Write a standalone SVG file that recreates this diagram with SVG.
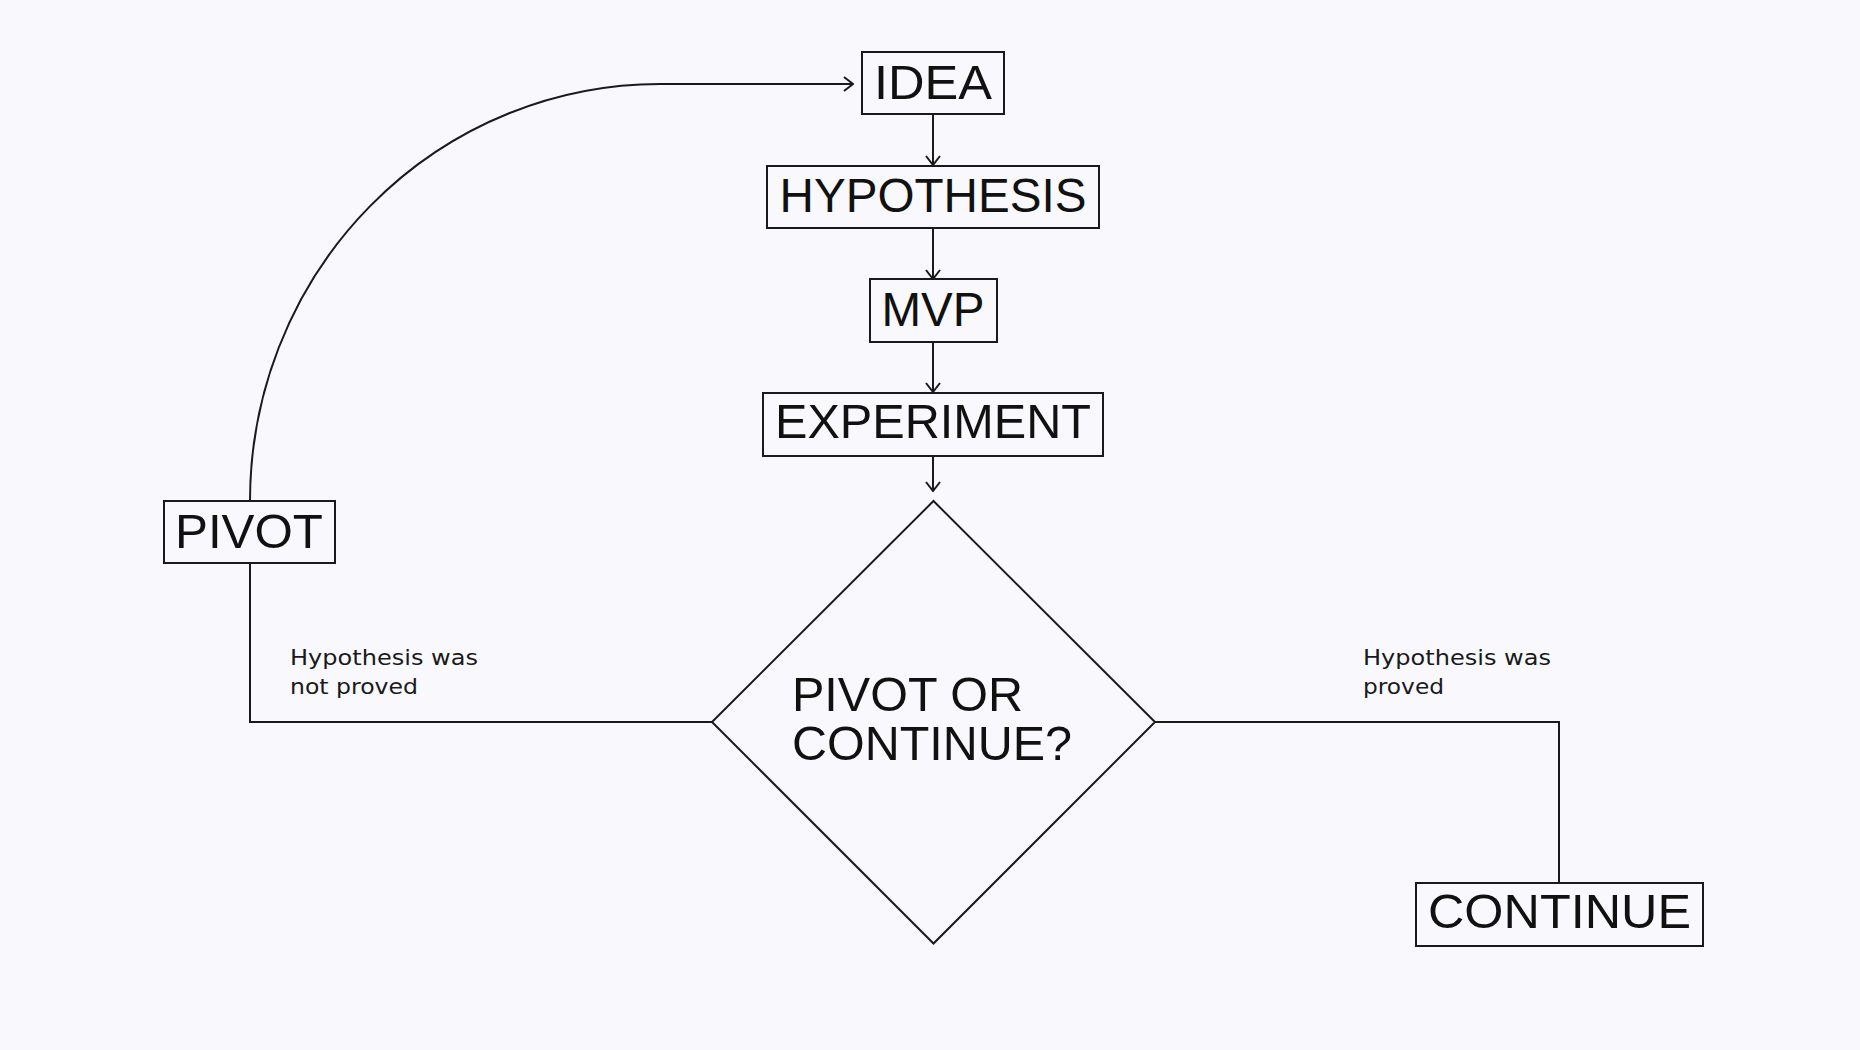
<svg xmlns="http://www.w3.org/2000/svg" width="1860" height="1050" viewBox="0 0 1860 1050">
<defs>
<style>
.box{fill:none;stroke:#1a1a1a;stroke-width:2}
.lbl{font-family:"Liberation Sans",Arial,sans-serif;font-size:48px;fill:#111;text-anchor:middle}
.dlbl{font-family:"Liberation Sans",Arial,sans-serif;font-size:48px;fill:#111}
.small{font-family:"DejaVu Sans","Liberation Sans",sans-serif;font-size:22px;fill:#1a1a1a}
.conn{fill:none;stroke:#1a1a1a;stroke-width:2}
</style>
<marker id="arr" viewBox="0 0 12 16" refX="11" refY="8" markerWidth="12" markerHeight="16" markerUnits="userSpaceOnUse" orient="auto">
<path d="M2,1 L11,8 L2,15" fill="none" stroke="#1a1a1a" stroke-width="2"/>
</marker>
</defs>
<rect width="1860" height="1050" fill="#f9f9fd"/>
<g id="connectors">
<path class="conn" d="M250,501 A410,417 0 0 1 660,84 L853,84" marker-end="url(#arr)"/>
<line class="conn" x1="933" y1="114" x2="933" y2="165" marker-end="url(#arr)"/>
<line class="conn" x1="933" y1="228" x2="933" y2="279" marker-end="url(#arr)"/>
<line class="conn" x1="933" y1="342" x2="933" y2="392" marker-end="url(#arr)"/>
<line class="conn" x1="933" y1="456" x2="933" y2="491" marker-end="url(#arr)"/>
<polyline class="conn" points="250,563 250,722 712,722"/>
<polyline class="conn" points="1155,722 1559,722 1559,883"/>
</g>
<g id="idea">
<rect class="box" x="862" y="52" width="142" height="62"/>
<text class="lbl" x="933" y="99" textLength="118" lengthAdjust="spacingAndGlyphs">IDEA</text>
</g>
<g id="hypothesis">
<rect class="box" x="767" y="166" width="332" height="62"/>
<text class="lbl" x="933" y="212" textLength="307" lengthAdjust="spacingAndGlyphs">HYPOTHESIS</text>
</g>
<g id="mvp">
<rect class="box" x="870" y="279" width="127" height="63"/>
<text class="lbl" x="933" y="326" textLength="103" lengthAdjust="spacingAndGlyphs">MVP</text>
</g>
<g id="experiment">
<rect class="box" x="763" y="393" width="340" height="63"/>
<text class="lbl" x="933" y="438" textLength="316" lengthAdjust="spacingAndGlyphs">EXPERIMENT</text>
</g>
<g id="decision">
<polygon class="box" points="933.5,501 1155,722 933.5,943.5 712,722"/>
<text class="dlbl" x="792" y="711" textLength="231" lengthAdjust="spacingAndGlyphs">PIVOT OR</text>
<text class="dlbl" x="792" y="760" textLength="280" lengthAdjust="spacingAndGlyphs">CONTINUE?</text>
</g>
<g id="pivot">
<rect class="box" x="164" y="501" width="171" height="62"/>
<text class="lbl" x="249" y="548" textLength="148" lengthAdjust="spacingAndGlyphs">PIVOT</text>
</g>
<g id="continue">
<rect class="box" x="1416" y="883" width="287" height="63"/>
<text class="lbl" x="1559.5" y="928" textLength="263" lengthAdjust="spacingAndGlyphs">CONTINUE</text>
</g>
<g id="label-not-proved">
<text class="small" x="290" y="665" textLength="188" lengthAdjust="spacingAndGlyphs">Hypothesis was</text>
<text class="small" x="290" y="694" textLength="128" lengthAdjust="spacingAndGlyphs">not proved</text>
</g>
<g id="label-proved">
<text class="small" x="1363" y="665" textLength="188" lengthAdjust="spacingAndGlyphs">Hypothesis was</text>
<text class="small" x="1363" y="694" textLength="81" lengthAdjust="spacingAndGlyphs">proved</text>
</g>
</svg>
